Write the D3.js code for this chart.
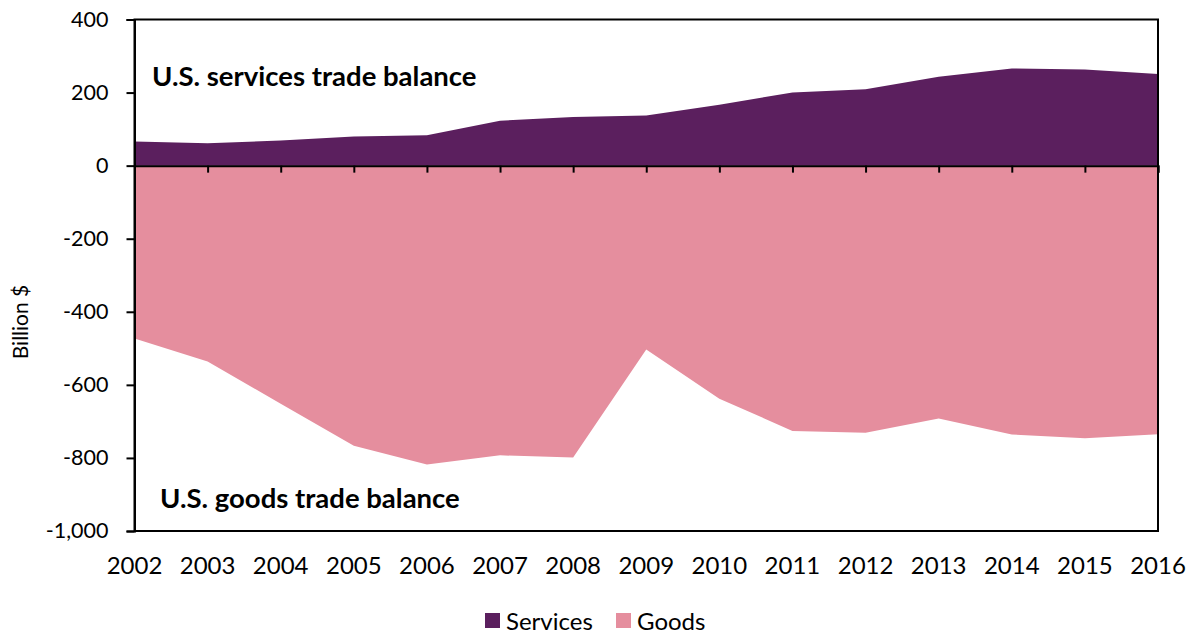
<!DOCTYPE html>
<html>
<head>
<meta charset="utf-8">
<script src="https://cdn.jsdelivr.net/npm/d3@7"></script>
<style>
  html, body { margin: 0; padding: 0; background: #fff; }
  svg { display: block; font-family: Lato, "Open Sans", sans-serif; }
</style>
</head>
<body>
<svg id="chart" width="1196" height="635"></svg>
<script>
// U.S. trade balance by year, billion dollars
const years = [2002, 2003, 2004, 2005, 2006, 2007, 2008, 2009, 2010, 2011, 2012, 2013, 2014, 2015, 2016];
const services = [66, 61, 69, 80, 83, 123, 133, 137, 167, 200, 209, 243, 266, 263, 251];
const goods = [-473, -536, -652, -767, -818, -793, -799, -503, -638, -726, -731, -692, -736, -746, -735];
const yTicks = [400, 200, 0, -200, -400, -600, -800, -1000];
const seriesNames = ["Services", "Goods"];
const seriesColors = ["#5b1f5e", "#e58e9e"];

const svg = d3.select("#chart");
const m = { left: 134.5, right: 1158, top: 19.5, bottom: 531 };

const x = d3.scaleLinear().domain([years[0], years[years.length - 1]]).range([m.left, m.right]);
const y = d3.scaleLinear().domain([-1000, 400]).range([m.bottom, m.top]);

const area = vals => d3.area()
  .x((d, i) => x(years[i]))
  .y0(y(0))
  .y1((d) => y(d))(vals);

// filled areas
svg.append("path").attr("d", area(goods)).attr("fill", seriesColors[1]);
svg.append("path").attr("d", area(services)).attr("fill", seriesColors[0]);

// frame
svg.append("rect")
  .attr("x", m.left).attr("y", m.top)
  .attr("width", m.right - m.left).attr("height", m.bottom - m.top)
  .attr("fill", "none").attr("stroke", "#000").attr("stroke-width", 2);

// y axis
const fmt = d3.format(",");
const yAxis = svg.append("g").attr("transform", `translate(${m.left},0)`)
  .call(d3.axisLeft(y).tickValues(yTicks).tickSize(8).tickPadding(18).tickFormat(d => fmt(d).replace("−", "-")));
yAxis.select(".domain").attr("stroke-width", 2);
yAxis.selectAll(".tick line").attr("stroke-width", 2);
yAxis.selectAll("text").attr("font-size", 21.5).attr("fill", "#000").attr("font-family", "Lato, sans-serif");

// zero line with year ticks
const xAxis = svg.append("g").attr("transform", `translate(0,${y(0)})`)
  .call(d3.axisBottom(x).tickValues(years).tickSize(7).tickFormat(""));
xAxis.select(".domain").attr("stroke-width", 2);
xAxis.selectAll(".tick line").attr("stroke-width", 2);

// year labels below the plot
svg.append("g").selectAll("text").data(years).join("text")
  .attr("x", d => x(d)).attr("y", 574)
  .attr("text-anchor", "middle").attr("font-size", 24).attr("fill", "#000")
  .text(d => d);

// y axis title
svg.append("text")
  .attr("transform", "translate(28,322) rotate(-90)")
  .attr("text-anchor", "middle").attr("font-size", 21).attr("fill", "#000")
  .text("Billion $");

// annotations
svg.append("text").attr("x", 152).attr("y", 86)
  .attr("font-size", 27.5).attr("font-weight", "bold").attr("fill", "#000")
  .text("U.S. services trade balance");
svg.append("text").attr("x", 160).attr("y", 508)
  .attr("font-size", 27.5).attr("font-weight", "bold").attr("fill", "#000")
  .text("U.S. goods trade balance");

// legend
const legend = svg.append("g");
const legendX = [485, 616];
seriesNames.forEach((name, i) => {
  legend.append("rect").attr("x", legendX[i]).attr("y", 613).attr("width", 15).attr("height", 15)
    .attr("fill", seriesColors[i]);
  legend.append("text").attr("x", legendX[i] + 21).attr("y", 630)
    .attr("font-size", 24).attr("fill", "#000").text(name);
});
</script>
</body>
</html>
